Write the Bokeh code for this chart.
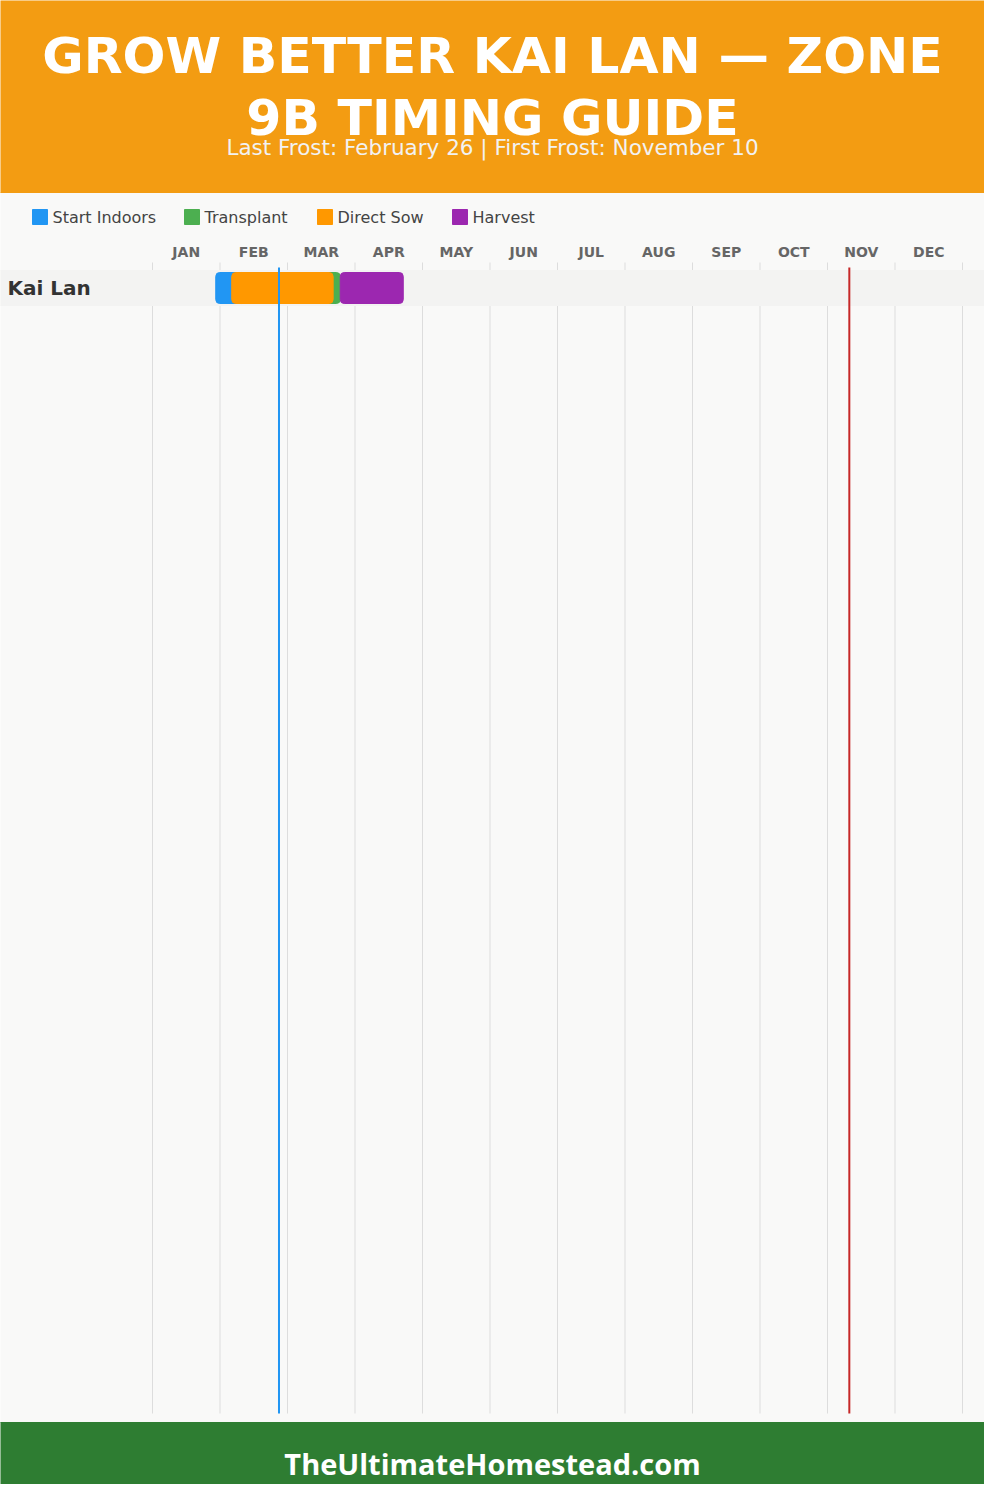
from bokeh.plotting import figure
from bokeh.models import Range1d, ColumnDataSource
from bokeh.core.properties import value
from bokeh.embed import file_html
from bokeh.resources import INLINE

# ---- data ----
title_lines = ["GROW BETTER KAI LAN — ZONE", "9B TIMING GUIDE"]
subtitle = "Last Frost: February 26 | First Frost: November 10"
footer = "TheUltimateHomestead.com"
months = ["JAN", "FEB", "MAR", "APR", "MAY", "JUN", "JUL", "AUG", "SEP", "OCT", "NOV", "DEC"]
crops = ["Kai Lan"]
phases = ["Start Indoors", "Transplant", "Direct Sow", "Harvest"]
phase_colors = ["#2196F3", "#4CAF50", "#FF9800", "#9C27B0"]
# day-of-year (start, end) per phase for Kai Lan
phase_start = [28.5, 70, 35.7, 84.6]
phase_end = [42, 84.6, 81.4, 113]
last_frost_day = 57   # Feb 26
first_frost_day = 314  # Nov 10

# ---- layout constants (reference pixel space) ----
W, H = 984, 1484
X0, X1 = 160, 970          # chart area in page px
def px_to_day(x):
    return (x - X0) * 365.0 / (X1 - X0)

p = figure(width=W, height=H, output_backend="svg", toolbar_location=None,
           x_range=Range1d(px_to_day(8), px_to_day(992)),
           y_range=Range1d(1492, 8), min_border=0)
p.extra_x_ranges = {"px": Range1d(8, 992)}
p.axis.visible = False
p.grid.visible = False
p.outline_line_color = None
p.background_fill_color = "#F9F9F8"
p.border_fill_color = "#F9F9F8"

# header + footer bands
p.quad(left=-10, right=1010, top=-10, bottom=200, color="#F39C12", x_range_name="px")
p.quad(left=-10, right=1010, top=1430, bottom=1510, color="#2E7D32", x_range_name="px")

TF = value("DejaVu Sans")
LF = value("DejaVu Sans")
FF = value("Open Sans")
p.text(x=[500, 500], y=[63, 125], text=title_lines, x_range_name="px",
       text_font=TF, text_font_style="bold", text_font_size="50.5px",
       text_color="white", text_align="center", text_baseline="middle")
p.text(x=[500], y=[155], text=[subtitle], x_range_name="px",
       text_font=LF, text_font_size="21.5px", text_color="#F2F2F2",
       text_align="center", text_baseline="middle")
p.text(x=[500], y=[1471], text=[footer], x_range_name="px",
       text_font=FF, text_font_style="bold", text_font_size="29px",
       text_color="white", text_align="center", text_baseline="middle")

# legend
leg_x = [40, 192, 325, 460]
p.quad(left=leg_x, right=[x + 15 for x in leg_x], top=[217] * 4, bottom=[232] * 4,
       color=phase_colors, x_range_name="px")
p.text(x=[x + 20 for x in leg_x], y=[225] * 4, text=phases, x_range_name="px",
       text_font=LF, text_font_size="16px", text_color="#444444",
       text_align="left", text_baseline="middle")

# month grid + labels
bounds = [i * 365 / 12 for i in range(13)]
p.segment(x0=bounds, x1=bounds, y0=[270] * 13, y1=[1421] * 13,
          line_color="#DDDDDD", line_width=1)
p.text(x=[(i + 0.5) * 365 / 12 for i in range(12)], y=[259] * 12, text=months,
       text_font=LF, text_font_style="bold", text_font_size="14px",
       text_color="#666666", text_align="center", text_baseline="middle")

# rows
row_y = [295.5 + 35 * i for i in range(len(crops))]
p.quad(left=-10, right=1010, top=[y - 17.5 for y in row_y], bottom=[y + 17.5 for y in row_y],
       color="#F3F3F2", x_range_name="px")
p.text(x=[15] * len(crops), y=row_y, text=crops, x_range_name="px",
       text_font=LF, text_font_style="bold", text_font_size="20px",
       text_color="#333333", text_align="left", text_baseline="middle")

src = ColumnDataSource(dict(y=[row_y[0]] * 4, left=phase_start, right=phase_end, color=phase_colors))
p.hbar(y="y", left="left", right="right", height=31, color="color", source=src,
       border_radius=4)

# frost lines
p.segment(x0=[last_frost_day], x1=[last_frost_day], y0=[275], y1=[1421],
          line_color="#2196F3", line_width=2)
p.segment(x0=[first_frost_day], x1=[first_frost_day], y0=[275], y1=[1421],
          line_color="#C62828", line_width=2)

open("out.html", "w").write(file_html(p, INLINE))
